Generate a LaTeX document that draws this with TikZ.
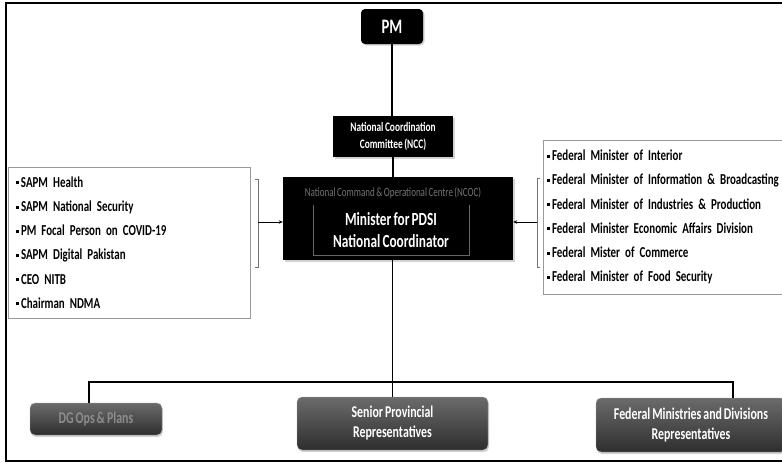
\documentclass[tikz,border=0pt]{standalone}
\usepackage{fontspec}
\setmainfont{Carlito}[FakeStretch=0.72,WordSpace=0.72]
\usepackage{tikz}
\usetikzlibrary{arrows.meta,positioning,calc,shadows}

\newcommand{\sqbul}{\rule[2.8pt]{3pt}{3pt}\hspace{2pt}}
\newcommand{\listfont}{\bfseries\fontsize{15.2}{24.2}\selectfont\spaceskip=2.3pt\relax}

\begin{document}
\begin{tikzpicture}[x=1pt,y=-1pt,
    link/.style={line width=1.3pt},
    feed/.style={-{Stealth[length=4pt,width=3.5pt]},line width=0.8pt},
    brace/.style={draw=black!55,line width=0.6pt},
    blackbox/.style={fill=black,text=white,inner sep=0pt,align=center,
      drop shadow={opacity=0.35,shadow xshift=1.5pt,shadow yshift=-1.5pt}},
    listbox/.style={draw=black!40,fill=white,align=left,inner xsep=0pt,
      font=\listfont},
    unitbox/.style={rounded corners=5pt,top color=black!58,bottom color=black!82,
      draw=black!35,text=white,align=center,inner sep=0pt,
      font=\bfseries\fontsize{16.5}{20}\selectfont,
      drop shadow={opacity=0.35,shadow xshift=1pt,shadow yshift=-2pt}}]

        \useasboundingbox (0,0) rectangle (782,464);
        \clip (0,0) rectangle (782,464);
        \draw[line width=1.6pt] (6,3) rectangle (795,461);

        % top of the chain
        \node[blackbox,rounded corners=4pt,minimum width=62pt,minimum height=35pt,
          font=\bfseries\fontsize{20.5}{24}\selectfont] (pm) at (392,26.5) {PM};
        \node[blackbox,minimum width=120pt,minimum height=41pt,
          font=\bfseries\fontsize{13}{17}\selectfont] (ncc) at (393,136.5)
          {National Coordination\\Committee (NCC)};

        \node[blackbox,minimum width=230pt,minimum height=83pt] (ncoc) at (398,218.5) {};
        \node[text=black!55,font=\fontsize{12.5}{14}\selectfont] (ncoclbl) at (393,193)
          {National Command \& Operational Centre (NCOC)};
        \node[text=white,align=center,minimum width=156pt,minimum height=50pt,
          font=\bfseries\fontsize{18.5}{22}\selectfont] (minister) at (391,230)
          {Minister for PDSI\\National Coordinator};
        \draw[black!60,line width=0.6pt] (minister.north west) -- (minister.south west)
          -- (minister.south east) -- (minister.north east);

        \draw[link] (pm.south) -- (pm.south |- ncc.north);
        \draw[link] (ncc.south) -- (ncc.south |- ncoc.north);

        % advisers and ministers
        \node[listbox,text width=226pt,minimum width=242pt,minimum height=151pt] (advisers) at (129,242.5)
          {\sqbul SAPM Health\\ \sqbul SAPM National Security\\ \sqbul PM Focal Person on COVID-19\\
           \sqbul SAPM Digital Pakistan\\ \sqbul CEO NITB\\ \sqbul Chairman NDMA};
        \node[listbox,text width=250pt,minimum width=258pt,minimum height=154pt] (ministers) at (672,217)
          {\sqbul Federal Minister of Interior\\ \sqbul Federal Minister of Information \& Broadcasting\\
           \sqbul Federal Minister of Industries \& Production\\ \sqbul Federal Minister Economic Affairs Division\\
           \sqbul Federal Mister of Commerce\\ \sqbul Federal Minister of Food Security};

        \draw[brace] (255,179) -- (258,179) -- (258,267) -- (255,267);
        \draw[brace] (540,178) -- (537,178) -- (537,267) -- (540,267);
        \coordinate (lbrk) at (258,222);
        \coordinate (rbrk) at (537,222);
        \draw[feed] (lbrk) -- (lbrk -| ncoc.west);
        \draw[feed] (rbrk) -- (rbrk -| ncoc.east);

        % lower tier
        \node[unitbox,minimum width=132pt,minimum height=32pt,text=black!45] (dgops) at (96,419) {DG Ops \& Plans};
        \node[unitbox,minimum width=191pt,minimum height=53pt] (senior) at (392.5,423.5)
          {Senior Provincial\\Representatives};
        \node[unitbox,minimum width=190pt,minimum height=54pt] (federal) at (691,425)
          {Federal Ministries and Divisions\\Representatives};

        \coordinate (dgdrop) at (89,382);
        \coordinate (feddrop) at (733,382);
        \draw[link] (senior.north |- ncoc.south) -- (senior.north);
        \draw[link] (dgops.north -| dgdrop) -- (dgdrop) -- (feddrop) -- (federal.north -| feddrop);

      \end{tikzpicture}
\end{document}
